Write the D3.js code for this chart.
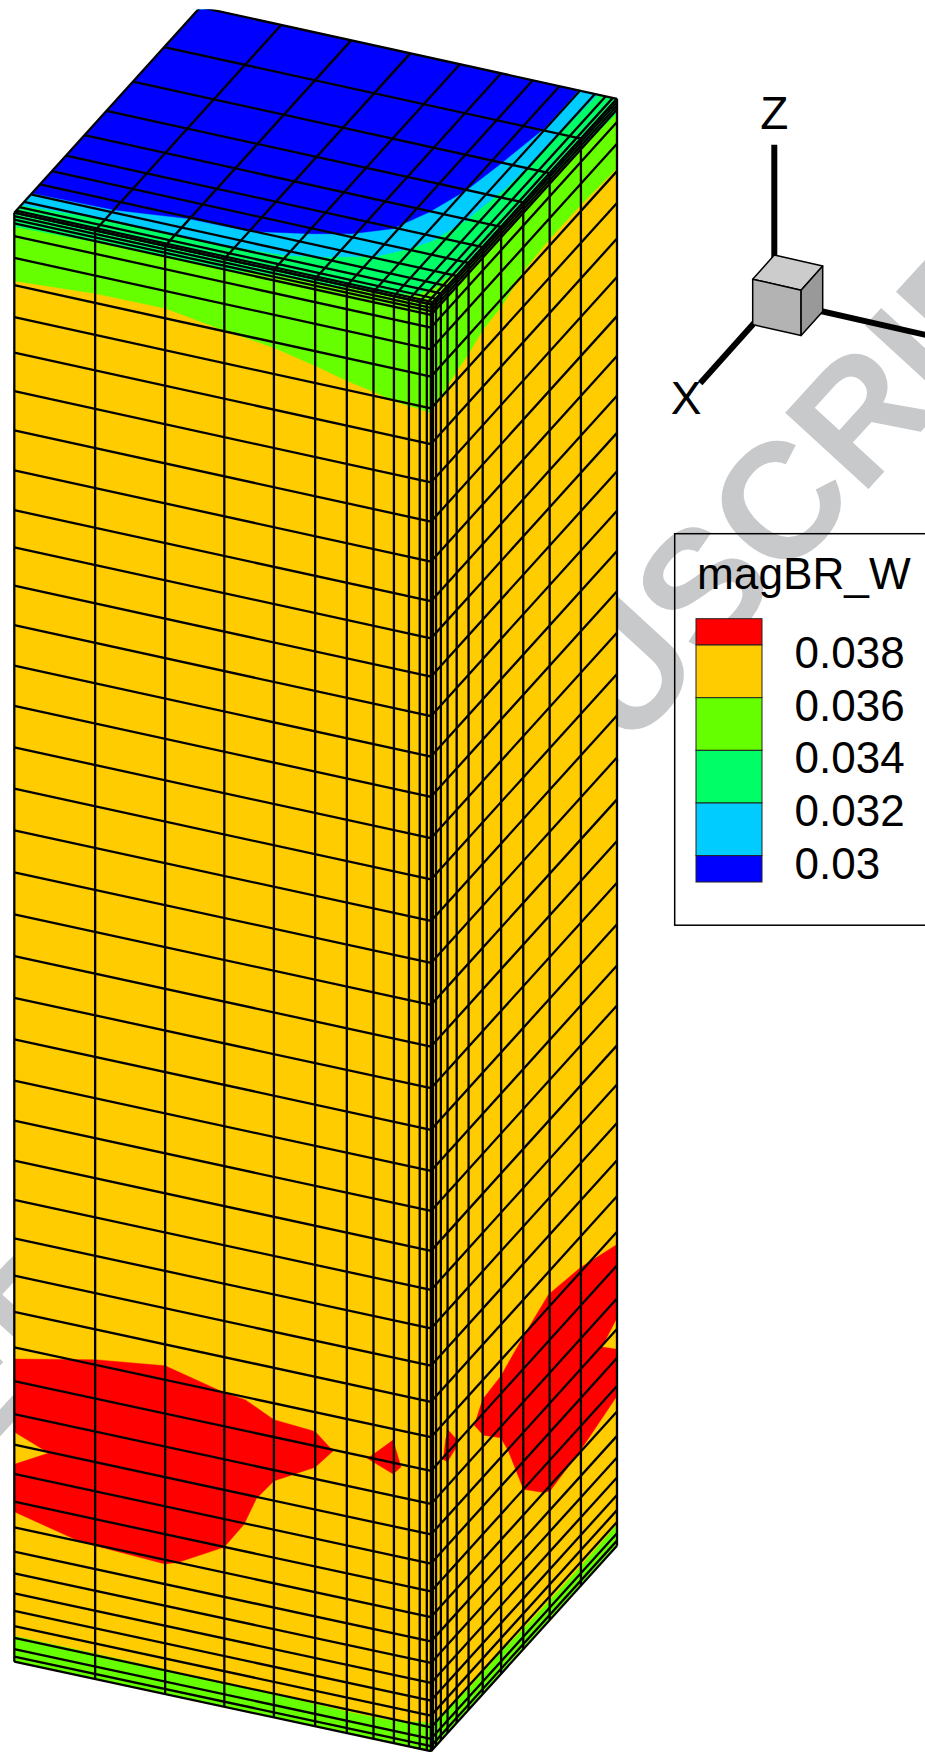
<!DOCTYPE html>
<html>
<head>
<meta charset="utf-8">
<style>html,body{margin:0;padding:0;background:#fff}svg{display:block}text{font-family:"Liberation Sans",Arial,sans-serif}</style>
<script src="https://cdn.jsdelivr.net/npm/d3@7/dist/d3.min.js"></script>
</head>
<body>
<script>
// ---- mesh (percent of domain along each axis)
const uGrid = [0,19.4,36.2,50.4,62.3,72.2,79.8,86.2,91.1,94.7,97.3,99,100];
const vGrid = [0,1,2.7,5.3,8.9,13.8,20.2,27.8,37.7,49.6,63.8,80.6,100];
const zGrid = [0,0.35,0.86,1.64,2.46,3.5,4.72,6.1,7.59,9.27,11.04,12.97,14.98,17.09,19.37,21.7,24.15,26.64,29.22,31.88,34.58,37.34,40.1,42.95,45.82,48.7,51.58,54.48,57.38,60.25,63.1,65.96,68.74,71.53,74.26,76.91,79.48,82.22,84.98,87.69,90.34,92.8,95,96.89,98.39,99.27,99.52,99.76,100];

// ---- contour bands: front face, z of the band edge at each uGrid node
const frontLevel036 = [95.29,95.65,95.69,95.05,94.62,93.99,93.44,93.08,92.76,92.64,92.6,92.52,92.49];
const frontLevel034 = [99.03,99.21,99.34,99.26,99.66,99.74,99.88,100,100,100,100,100,100];
const frontBottom036 = [1.77,1.75,1.7,1.65,1.6,1.55,1.5,1.5,1.55,1.7,1.85,1.9,1.9];
// right face, z of the band edge at each vGrid node
const rightLevel036 = [92.49,92.6,92.73,92.84,93.09,93.43,93.7,94.27,94.46,95.24,95.45,95.44,95.2];
const rightLevel034 = [100,100,100,100,100,100,100,100,100,99.9,99.6,99.3,99.0];
const rightBottom036 = [1.9,1.9,1.85,1.75,1.65,1.55,1.45,1.45,1.5,1.4,1.35,1.35,1.45];
// top face, [u,v] along band edges
const topLevel030 = [[0,9.5],[19.6,10],[35.8,13.1],[50.4,13.4],[63.1,17.9],[71.3,21.5],[78.6,27.2],[82.9,37.2],[86.4,49.3],[88.5,63.3],[90.8,81.3],[90.8,100]];
const topLevel032 = [[0,3.6],[20.5,5.5],[50,5.6],[62.1,6.9],[70.6,9.9],[80.3,14.5],[85.5,20.5],[88.9,26.1],[91.8,37.1],[94,54.3],[94.5,67.5],[95.4,100]];
const topLevel034 = [[86.2,0],[95.2,2.1],[98,7.4],[98.3,12.4],[99.6,14.8],[100,15.5]];
// red islands, [u,z] on front and [v,z] on right
const frontRed = [
  [[0,20.89],[19.4,22.05],[36.2,22.67],[50.4,21.69],[55.4,21.52],[62.3,20.57],[72.2,20.36],[76.5,19.29],[72.2,17.9],[62.3,16.34],[58.1,14.86],[55.1,12.88],[50.4,11.03],[39.4,9.3],[36.2,8.98],[19.4,9.21],[15.2,9.3],[0,10.35],[0,13.62],[8.3,14.92],[0,15.85]],
  [[84.8,19.28],[90.9,20.94],[92.8,19.19],[90.9,18.6]]
];
const rightRed = [
  [[100,20.82],[80.2,22.02],[63.2,22.59],[49.7,21.62],[37.5,20.59],[27.8,20.37],[23.3,19.21],[28.2,17.83],[37.5,16.34],[41.6,14.84],[49.7,11.04],[60.5,9.29],[64.1,8.89],[80.2,9.37],[100,10.35],[100,13.58],[91.9,14.88],[100,15.76]],
  [[9.3,20.86],[13.8,19.59],[13.5,19.06],[8.8,18.76],[6.6,19.23],[7.9,20.43]]
];

// ---- legend
const legendTitle = "magBR_W";
const legendLevels = [0.038,0.036,0.034,0.032,0.03];
const legendLabels = ["0.038","0.036","0.034","0.032","0.03"];
const legendEdges = [0.039,0.038,0.036,0.034,0.032,0.03,0.029];
const bandColors = ["#ff0000","#ffcc00","#66ff00","#00ff66","#00ccff","#0000ff"];
const [cRed,cOrange,cLime,cSpring,cCyan,cBlue] = bandColors;

// ---- orientation triad, in units of its little cube
const triadAxes = [{name:"X",end:[3.43,0,0]},{name:"Y",end:[0,3.43,0]},{name:"Z",end:[0,0,3.43]}];
const triadFaces = [
  {pts:[[0,0,1],[1,0,1],[1,1,1],[0,1,1]],fill:"#cccccc"},
  {pts:[[1,0,0],[1,1,0],[1,1,1],[1,0,1]],fill:"#b3b3b3"},
  {pts:[[1,1,0],[0,1,0],[0,1,1],[1,1,1]],fill:"#999999"}
];
const watermarkText = "ACCEPTED MANUSCRIPT";

const W=925,H=1752;
const svg=d3.select("body").append("svg").attr("width",W).attr("height",H).attr("viewBox",[0,0,W,H]);
svg.append("rect").attr("width",W).attr("height",H).attr("fill","#fff");

// watermark
svg.append("text").attr("transform","translate(642,659) rotate(-47.5)")
  .attr("x",-1400).attr("y",52).attr("font-size",164).attr("font-weight","bold").attr("fill","#c8c9cb")
  .text(watermarkText);

// projection scales
const xU=d3.scaleLinear([0,100],[14.3,431]);
const xV=d3.scaleLinear([0,100],[0,186]);
const yZ=d3.scaleLinear([0,100],[1661.7,212.7]);
const yUSpan=d3.scaleLinear([0,100],[89.5,91.6]);
const yV=d3.scaleLinear([0,100],[0,-205.5]);
const proj=(u,v,z)=>[xU(u)+xV(v), yZ(z)+yUSpan(z)*u/100+yV(v)];
const line=d3.line();
const front=p=>proj(p[0],0,p[1]);
const right=p=>proj(100,p[0],p[1]);
const top_=p=>proj(p[0],p[1],100);
const poly=(g,pts,fill)=>g.append("path").attr("d",line(pts)+"Z").attr("fill",fill).attr("stroke",fill).attr("stroke-width",0.4);

svg.append("clipPath").attr("id","frame").append("rect").attr("x",0).attr("y",9.5).attr("width",W).attr("height",H);
const body=svg.append("g").attr("clip-path","url(#frame)");

// top face
const topG=body.append("g");
poly(topG,[[0,0],[100,0],[100,100],[0,100]].map(top_),cSpring);
poly(topG,[...topLevel034,[100,0]].map(top_),cLime);
poly(topG,[...topLevel032,[0,100]].map(top_),cCyan);
poly(topG,[...topLevel030,[0,100]].map(top_),cBlue);

// front face
const frontG=body.append("g");
const band=(grid,lo,hi)=>[...grid.map((g,i)=>[g,lo[i]]),...grid.map((g,i)=>[g,hi[i]]).reverse()];
const all=(grid,val)=>grid.map(()=>val);
poly(frontG,band(uGrid,all(uGrid,0),all(uGrid,100)).map(front),cOrange);
poly(frontG,band(uGrid,frontLevel036,all(uGrid,100)).map(front),cLime);
poly(frontG,band(uGrid,frontLevel034,all(uGrid,100)).map(front),cSpring);
poly(frontG,band(uGrid,all(uGrid,0),frontBottom036).map(front),cLime);
frontRed.forEach(r=>poly(frontG,r.map(front),cRed));

// right face
const rightG=body.append("g");
poly(rightG,band(vGrid,all(vGrid,0),all(vGrid,100)).map(right),cOrange);
poly(rightG,band(vGrid,rightLevel036,all(vGrid,100)).map(right),cLime);
poly(rightG,band(vGrid,rightLevel034,all(vGrid,100)).map(right),cSpring);
poly(rightG,band(vGrid,all(vGrid,0),rightBottom036).map(right),cLime);
rightRed.forEach(r=>poly(rightG,r.map(right),cRed));

// mesh
const mesh=body.append("g").attr("fill","none").attr("stroke","#000").attr("stroke-width",2.3);
const seg=(a,b)=>mesh.append("path").attr("d",line([a,b]));
uGrid.forEach(u=>seg(proj(u,0,0),proj(u,0,100)));
zGrid.forEach(z=>seg(proj(0,0,z),proj(100,0,z)));
vGrid.forEach(v=>seg(proj(100,v,0),proj(100,v,100)));
zGrid.forEach(z=>seg(proj(100,0,z),proj(100,100,z)));
uGrid.forEach(u=>seg(proj(u,0,100),proj(u,100,100)));
vGrid.forEach(v=>seg(proj(0,v,100),proj(100,v,100)));

// triad
const tx=d3.scaleLinear([0,1],[0,-21.6]), ty=d3.scaleLinear([0,1],[0,48.4]);
const ty2=d3.scaleLinear([0,1],[0,11]), tx2=d3.scaleLinear([0,1],[0,24.1]), tz=d3.scaleLinear([0,1],[0,-45.4]);
const tp=([a,b,c])=>[774.3+tx(a)+ty(b),300.5+tx2(a)+ty2(b)+tz(c)];
const triad=svg.append("g");
triadAxes.forEach(a=>triad.append("path").attr("d",line([tp([0,0,0]),tp(a.end)])).attr("stroke","#000").attr("stroke-width",6).attr("fill","none"));
triadFaces.forEach(f=>triad.append("path").attr("d",line(f.pts.map(tp))+"Z").attr("fill",f.fill).attr("stroke","#000").attr("stroke-width",1.5).attr("stroke-linejoin","round"));
const axisLabel=(t,x,y)=>triad.append("text").attr("x",x).attr("y",y).attr("font-size",46).attr("text-anchor","middle").attr("fill","#000").text(t);
const zTip=tp(triadAxes[2].end), xTip=tp(triadAxes[0].end);
axisLabel("Z",zTip[0],zTip[1]-16);
axisLabel("X",xTip[0]-14,xTip[1]+31);

// legend
const legend=svg.append("g");
legend.append("rect").attr("x",674.7).attr("y",533.7).attr("width",320).attr("height",391.5).attr("fill","none").attr("stroke","#000").attr("stroke-width",1.5);
legend.append("text").attr("x",697).attr("y",589).attr("font-size",44.2).attr("fill","#000").text(legendTitle);
const ly=d3.scaleLinear([0.039,0.029],[618.7,882]);
bandColors.forEach((c,i)=>legend.append("rect").attr("x",696).attr("width",66)
  .attr("y",ly(legendEdges[i])).attr("height",ly(legendEdges[i+1])-ly(legendEdges[i]))
  .attr("fill",c).attr("stroke","#222").attr("stroke-width",1));
legendLevels.forEach((l,i)=>legend.append("text").attr("x",794.5).attr("y",ly(l)+23).attr("font-size",44).attr("fill","#000").text(legendLabels[i]));
</script>
</body>
</html>
